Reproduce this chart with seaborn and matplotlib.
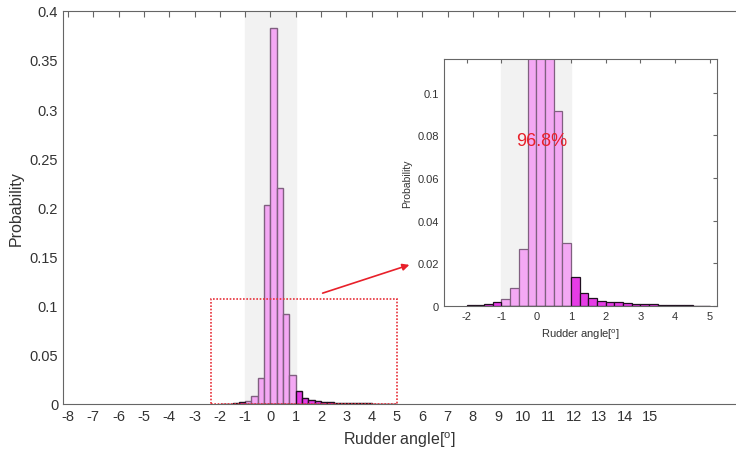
import numpy as np
import pandas as pd
import seaborn as sns
import matplotlib.pyplot as plt
from matplotlib.patches import Rectangle

# bin left edges (deg) and probability per 0.25 deg bin
bin_left = [-2.0, -1.75, -1.5, -1.25, -1.0, -0.75, -0.5, -0.25, 0.0, 0.25,
            0.5, 0.75, 1.0, 1.25, 1.5, 1.75, 2.0, 2.25, 2.5, 2.75,
            3.0, 3.25, 3.5, 3.75, 4.0, 4.25, 4.5, 4.75]
prob = [0.0002, 0.0004, 0.0008, 0.0016, 0.0030, 0.0083, 0.0268, 0.202, 0.383, 0.220,
        0.0917, 0.0296, 0.0136, 0.0061, 0.0038, 0.0025, 0.0019, 0.0016, 0.0013, 0.0011,
        0.0009, 0.0007, 0.0006, 0.0005, 0.0003, 0.0002, 0.0001, 0.0001]
main_xticks = list(range(-8, 16))
main_yticks = [0, 0.05, 0.1, 0.15, 0.2, 0.25, 0.3, 0.35, 0.4]
inset_xticks = list(range(-2, 6))
inset_yticks = [0, 0.02, 0.04, 0.06, 0.08, 0.1]
share_label = "96.8%"

width = 0.25
edges = [float(b) for b in bin_left] + [bin_left[-1] + width]
df = pd.DataFrame({"angle": np.array(bin_left) + width / 2, "prob": prob})
df["inside"] = (df["angle"] > -1) & (df["angle"] < 1)

sns.set_style("white")
plt.rcParams["font.family"] = ["Liberation Sans", "DejaVu Sans"]
plt.rcParams["axes.unicode_minus"] = False
plt.rcParams["mathtext.fontset"] = "custom"
plt.rcParams["mathtext.rm"] = "Liberation Sans"

light, light_edge = "#F4A8F4", "#806080"
dark, dark_edge = "#E63CE6", "#201020"
band = "#F2F2F2"
spine = "#666666"
txt = "#333333"


def draw_hist(ax, lw):
    ax.axvspan(-1, 1, color=band, zorder=0)
    for inside, fc, ec in [(True, light, light_edge), (False, dark, dark_edge)]:
        sub = df[df["inside"] == inside].reset_index(drop=True)
        sns.histplot(data=sub, x="angle", weights="prob", bins=edges,
                     color=fc, edgecolor=ec, alpha=1, linewidth=lw, ax=ax)


def style_axes(ax, size):
    for s in ax.spines.values():
        s.set_color(spine)
    ax.tick_params(direction="in", top=True, right=True, colors=spine,
                   labelcolor=txt, labelsize=size, length=4)


fig = plt.figure(figsize=(7.36, 4.56), dpi=100)
ax = fig.add_axes([0.0856, 0.112, 0.9144, 0.862])
draw_hist(ax, 1.0)
ax.set_xlim(-8.2, 18.4)
ax.set_ylim(0, 0.4)
ax.set_xticks(main_xticks)
ax.set_yticks(main_yticks)
ax.set_yticklabels([f"{v:g}" for v in main_yticks])
style_axes(ax, 10.5)
ax.spines["right"].set_visible(False)
ax.tick_params(right=False)
ax.set_xlabel("Rudder angle[$^{\\mathrm{o}}$]", fontsize=11.5, color=txt, labelpad=5)
ax.set_ylabel("Probability", fontsize=11.5, color=txt, labelpad=4)

# zoom region box
ax.add_patch(Rectangle((-2.35, 0), 7.35, 0.107, fill=False, edgecolor="#E8303A",
                       linestyle=(0, (1, 1)), linewidth=1.2, zorder=5))
ax.annotate("", xy=(412 / 736, 191 / 456), xytext=(320 / 736, 161 / 456),
            xycoords="figure fraction", textcoords="figure fraction",
            arrowprops=dict(arrowstyle="-|>", color="#E8202A", lw=1.2,
                            mutation_scale=10))

ins = fig.add_axes([0.603, 0.327, 0.371, 0.542])
ins.set_facecolor("white")
draw_hist(ins, 0.9)
ins.set_xlim(-2.66, 5.2)
ins.set_ylim(0, 0.116)
ins.set_xticks(inset_xticks)
ins.set_yticks(inset_yticks)
ins.set_yticklabels([f"{v:g}" for v in inset_yticks])
style_axes(ins, 8)
ins.tick_params(length=3)
ins.set_xlabel("Rudder angle[$^{\\mathrm{o}}$]", fontsize=8, color=txt)
ins.set_ylabel("Probability", fontsize=7.5, color=txt)
ins.text(0.16, 0.0775, share_label, color="#E8202A", fontsize=13,
         ha="center", va="center", zorder=6)

fig.savefig("out.png", dpi=100)
